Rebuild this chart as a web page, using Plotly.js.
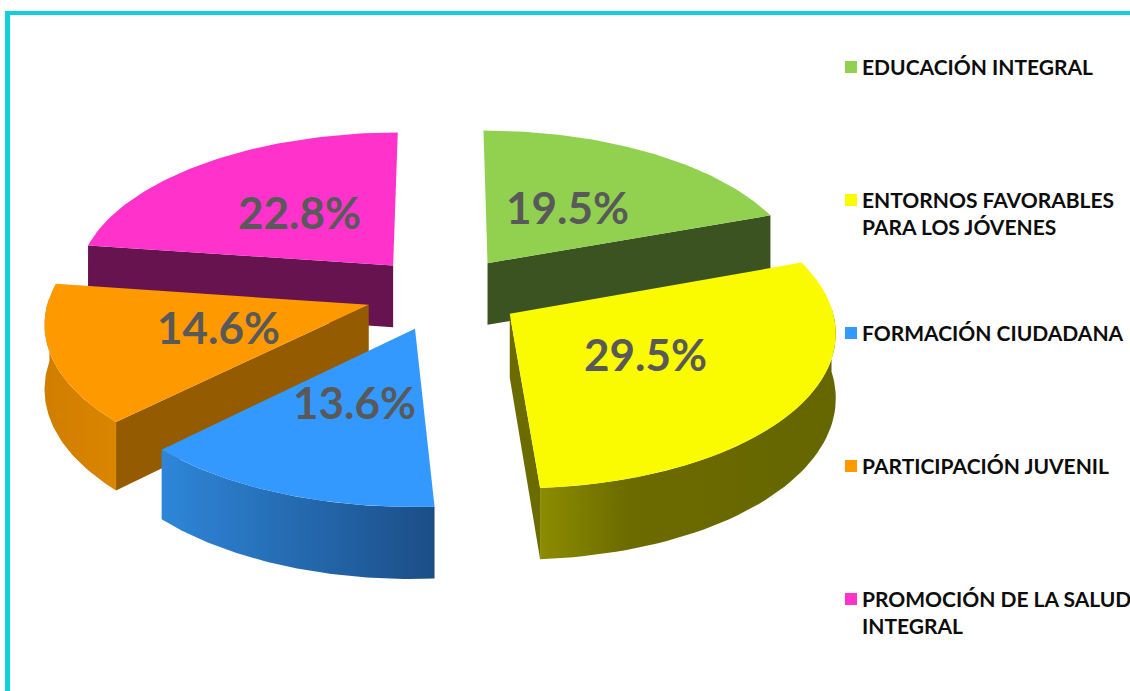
<!DOCTYPE html>
<html>
<head>
<meta charset="utf-8">
<script src="https://cdn.plot.ly/plotly-3.0.1.min.js"></script>
<style>html,body{margin:0;padding:0;background:#fff}#chart{width:1130px;height:691px}</style>
</head>
<body>
<div id="chart"></div>
<script>
const categories = ["EDUCACIÓN INTEGRAL","ENTORNOS FAVORABLES<br>PARA LOS JÓVENES","FORMACIÓN CIUDADANA","PARTICIPACIÓN JUVENIL","PROMOCIÓN DE LA SALUD<br>INTEGRAL"];
const shares = [19.5,29.5,13.6,14.6,22.8];
const topColors = ["#92D050","#FAFA00","#3399FF","#FF9900","#FF33CC"];
const radialWallColors = ["#3B5320","#6B6B00","#1F5C99","#955B00","#66134F"];
const outerWallScales = [
  [[0,"#5a8030"],[1,"#3B5320"]],
  [[0,"#8C8C00"],[0.3,"#6B6B00"],[1,"#666600"]],
  [[0,"#2E86D9"],[1,"#1B4E87"]],
  [[0,"#D07E00"],[1,"#DB8500"]],
  [[0,"#99267C"],[1,"#66134F"]]
];
const labelRadii = [0.47,0.48,0.48,0.48,0.48];
const drawOrder = [0,4,3,1,2];

// Geometry of the tilted, exploded pie
const cx = 443.5, cy = 293, R = 319, Rv = 152, k = 0.103, depth = 63, explode = 0.245;
const legendX = 851, legendTextX = 860, legendY0 = 67, legendStep = 133;

function project(X, Y, h) {
  const s = 1 / (1 + k * Y);
  return [cx + R * X * s, cy - Rv * Y * s + h * depth * s];
}
let cum = 0;
const slices = shares.map(v => {
  const a0 = cum / 100 * 2 * Math.PI; cum += v;
  const a1 = cum / 100 * 2 * Math.PI;
  const m = (a0 + a1) / 2;
  return {a0, a1, m, ox: explode * Math.sin(m), oy: explode * Math.cos(m)};
});
function rimAngles(sl) {
  const out = [];
  const n = 60;
  for (let i = 0; i <= n; i++) out.push(sl.a0 + (sl.a1 - sl.a0) * i / n);
  return out;
}
function rimAt(sl, angles, h) {
  return angles.map(t => project(sl.ox + Math.sin(t), sl.oy + Math.cos(t), h));
}
function poly(pts, color, extra) {
  return Object.assign({
    type: "scatter", mode: "lines", x: pts.map(p => p[0]), y: pts.map(p => p[1]),
    fill: "toself", fillcolor: color, line: {width: 0, color: color},
    hoverinfo: "skip", showlegend: false
  }, extra || {});
}
const traces = [];
drawOrder.forEach(i => {
  const sl = slices[i];
  const angles = rimAngles(sl);
  const apexT = project(sl.ox, sl.oy, 0), apexB = project(sl.ox, sl.oy, 1);
  const rT = rimAt(sl, angles, 0), rB = rimAt(sl, angles, 1);
  // outer wall: only the part of the rim that faces the viewer
  const front = angles.filter(t => Math.cos(t) < 0.05);
  if (front.length > 1) {
    const wall = rimAt(sl, front, 0).concat(rimAt(sl, front, 1).reverse());
    traces.push(poly(wall, outerWallScales[i][0][1], {fillgradient: {type: "horizontal", colorscale: outerWallScales[i]}}));
  }
  // radial walls, only those facing the viewer
  if (Math.sin(sl.a0) < -1e-9) traces.push(poly([apexT, rT[0], rB[0], apexB], radialWallColors[i]));
  if (Math.sin(sl.a1) > 1e-9) traces.push(poly([apexT, rT[rT.length-1], rB[rB.length-1], apexB], radialWallColors[i]));
  // top face
  traces.push(poly([apexT].concat(rT), topColors[i]));
});
// legend swatches
traces.push({
  type: "scatter", mode: "markers",
  x: categories.map(() => legendX),
  y: categories.map((c, i) => legendY0 + i * legendStep),
  marker: {symbol: "square", size: 12, color: topColors},
  hoverinfo: "skip", showlegend: false
});
const annotations = [];
categories.forEach((c, i) => annotations.push({
  x: legendTextX, y: legendY0 + i * legendStep - 15, xref: "x", yref: "y",
  text: "<b>" + c + "</b>", showarrow: false, xanchor: "left", yanchor: "top", align: "left",
  font: {family: "Lato, Arial, sans-serif", size: 21, color: "#0d0d0d"}
}));
shares.forEach((v, i) => {
  const sl = slices[i], r = labelRadii[i];
  const p = project(sl.ox + r * Math.sin(sl.m), sl.oy + r * Math.cos(sl.m), 0);
  annotations.push({
    x: p[0], y: p[1], xref: "x", yref: "y", yshift: 2, text: "<b>" + v.toFixed(1) + "%</b>",
    showarrow: false, xanchor: "center", yanchor: "middle",
    font: {family: "Lato, Arial, sans-serif", size: 44, color: "#595959"}
  });
});
const frame = "#0FD0DC";
const layout = {
  width: 1130, height: 691, margin: {l: 0, r: 0, t: 0, b: 0},
  paper_bgcolor: "#fff", plot_bgcolor: "#fff", showlegend: false,
  xaxis: {range: [0, 1130], visible: false, fixedrange: true},
  yaxis: {range: [691, 0], visible: false, fixedrange: true},
  annotations,
  shapes: [
    {type: "rect", xref: "x", yref: "y", x0: 5, x1: 10, y0: 11, y1: 691, fillcolor: frame, line: {width: 0}},
    {type: "rect", xref: "x", yref: "y", x0: 5, x1: 1130, y0: 11, y1: 15, fillcolor: frame, line: {width: 0}}
  ]
};
Plotly.newPlot("chart", traces, layout, {displayModeBar: false, staticPlot: true});
</script>
</body>
</html>
